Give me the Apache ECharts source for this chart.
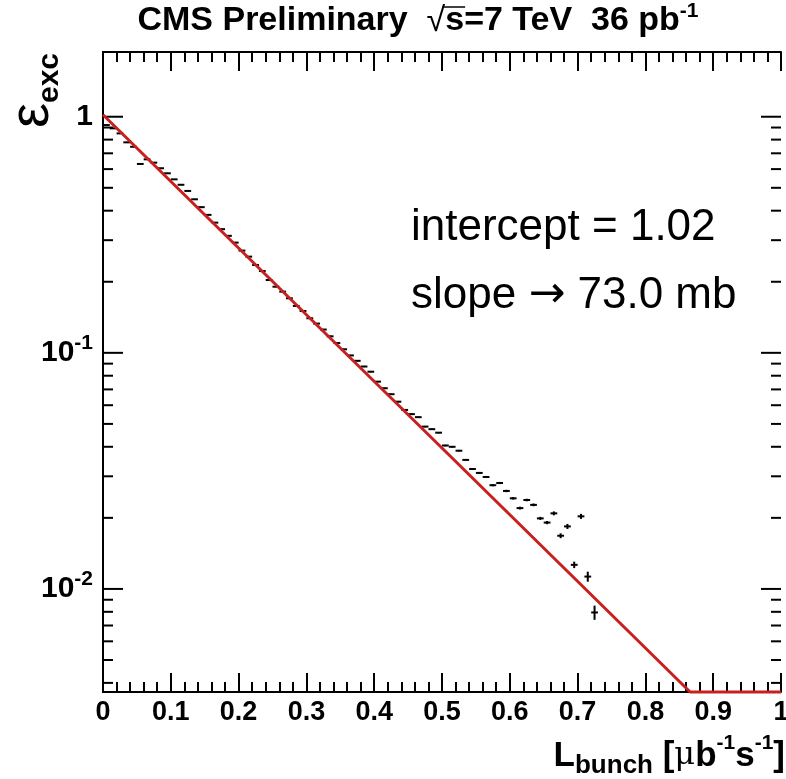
<!DOCTYPE html>
<html><head><meta charset="utf-8">
<script src="https://cdn.jsdelivr.net/npm/echarts@6/dist/echarts.min.js"></script>
<style>html,body{margin:0;padding:0;background:#fff}#c{width:786px;height:779px}</style>
</head><body><div id="c"></div>
<script>
// ---- data ----
const binCenters = [0.005,0.015,0.025,0.035,0.045,0.055,0.065,0.075,0.085,0.095,
  0.105,0.115,0.125,0.135,0.145,0.155,0.165,0.175,0.185,0.195,
  0.205,0.215,0.225,0.235,0.245,0.255,0.265,0.275,0.285,0.295,
  0.305,0.315,0.325,0.335,0.345,0.355,0.365,0.375,0.385,0.395,
  0.405,0.415,0.425,0.435,0.445,0.455,0.465,0.475,0.485,0.495,
  0.505,0.515,0.525,0.535,0.545,0.555,0.565,0.575,0.585,0.595,
  0.605,0.615,0.625,0.635,0.645,0.655,0.665,0.675,0.685,0.695,
  0.705,0.715,0.725];
const effValues = [0.922,0.893,0.850,0.779,0.746,0.631,0.660,0.639,0.605,0.576,
  0.543,0.515,0.485,0.447,0.414,0.384,0.356,0.334,0.313,0.293,
  0.271,0.2555,0.2355,0.222,0.2035,0.1906,0.1816,0.1702,0.158,0.1504,
  0.1401,0.133,0.1255,0.1175,0.110,0.1035,0.0975,0.0925,0.0875,0.0832,
  0.0755,0.0708,0.0668,0.0621,0.0573,0.0550,0.0534,0.0487,0.0475,0.0459,
  0.0405,0.0400,0.0385,0.0352,0.0322,0.0310,0.0298,0.0275,0.0281,0.0260,
  0.0242,0.0220,0.0238,0.0227,0.0199,0.0191,0.0209,0.0168,0.0184,0.01265,
  0.0203,0.01128,0.00795];
const effErrors = [0.003,0.003,0.003,0.003,0.003,0.003,0.003,0.002,0.002,0.002,
  0.002,0.002,0.002,0.002,0.002,0.0015,0.0015,0.0015,0.0015,0.0012,
  0.0012,0.001,0.001,0.001,0.001,0.0009,0.0009,0.0008,0.0008,0.0008,
  0.0007,0.0007,0.0007,0.0006,0.0006,0.0006,0.0005,0.0005,0.0005,0.0005,
  0.0004,0.0004,0.0004,0.0004,0.0004,0.0004,0.0004,0.0003,0.0003,0.0003,
  0.0003,0.0003,0.0003,0.0003,0.0003,0.0003,0.0003,0.0003,0.0003,0.0003,
  0.0003,0.0003,0.0003,0.0003,0.0003,0.0003,0.0004,0.0004,0.00045,0.0004,
  0.0005,0.00055,0.00055];
const fitL = [0, 0.866, 1];
const fitEff = [1.02, 0.00366, 0.00366];
const yMajorTicks = [0.01, 0.1, 1];
const yMinorTicks = [0.004,0.005,0.006,0.007,0.008,0.009,
  0.02,0.03,0.04,0.05,0.06,0.07,0.08,0.09,
  0.2,0.3,0.4,0.5,0.6,0.7,0.8,0.9];
const xMin = 0, xMax = 1, xStep = 0.1;
const yMin = 0.00366, yMax = 1.88;
const binHalfWidth = 0.005;

// ---- chart ----
const FONT = '"Liberation Sans", Arial, Helvetica, sans-serif';
const chart = echarts.init(document.getElementById('c'), null, {renderer: 'canvas'});

const pointData = binCenters.map((x, i) => [x, effValues[i], effErrors[i]]);
const fitData = fitL.map((x, i) => [x, fitEff[i]]);
const tickData = yMajorTicks.map(v => [0, v, 1]).concat(yMinorTicks.map(v => [0, v, 0]));

// measure title pieces so the title can be centred and the root bar placed
const mctx = document.createElement('canvas').getContext('2d');
function tw(txt, font) { mctx.font = font; return mctx.measureText(txt).width; }
const TS = 34, SS = 21;
const fB = 'bold ' + TS + 'px ' + FONT;
const fN = TS + 'px ' + FONT;
const fSup = 'bold ' + SS + 'px ' + FONT;
const p1 = 'CMS Preliminary  ', p2 = '\u221a', p3 = 's', p4 = '=7 TeV  36 pb', p5 = '-1';
const w1 = tw(p1, fB), w2 = tw(p2, fN), w3 = tw(p3, fB), w4 = tw(p4, fB), w5 = tw(p5, fSup);
const titleX0 = 418 - (w1 + w2 + w3 + w4 + w5) / 2;
const titleY = 21;
function tText(x, y, text, size, extra) {
  return Object.assign({type: 'text', x: x, y: y, silent: true,
    style: Object.assign({text: text, fontFamily: FONT, fontWeight: 'bold', fontSize: size, fill: '#000',
      align: 'left', verticalAlign: 'middle'}, extra || {})});
}

// y-axis title: ROOT draws it right-aligned to the top end of the axis
const fExc = 'bold 30px ' + FONT, fEps = '56px ' + FONT;
const wExc = tw('exc', fExc), wEps = tw('\u03b5', fEps);
const yTitleTop = 53;

function xAxisCommon(pos) {
  return {
    type: 'value', min: xMin, max: xMax, interval: xStep, position: pos,
    axisLine: {show: true, onZero: false, lineStyle: {color: '#000', width: 2}},
    axisTick: {show: true, inside: true, length: 19, lineStyle: {color: '#000', width: 2}},
    minorTick: {show: true, splitNumber: 5, length: 10, lineStyle: {color: '#000', width: 2}},
    splitLine: {show: false},
    axisLabel: pos === 'bottom' ? {
      show: true, margin: 7, color: '#000', fontFamily: FONT, fontWeight: 'bold', fontSize: 27,
      formatter: v => (Math.round(v * 10) / 10).toString()
    } : {show: false}
  };
}

chart.setOption({
  backgroundColor: '#fff',
  animation: false,
  grid: {left: 103, right: 5, top: 52, bottom: 87, containLabel: false, outerBoundsMode: 'none'},
  xAxis: [xAxisCommon('bottom'), xAxisCommon('top')],
  yAxis: [
    {
      type: 'log', logBase: 10, min: yMin, max: yMax, position: 'left',
      axisLine: {show: true, lineStyle: {color: '#000', width: 2}},
      axisTick: {show: false}, splitLine: {show: false}, minorTick: {show: false},
      axisLabel: {
        show: true, margin: 10, color: '#000',
        formatter: function (v) {
          const l = Math.log10(v), e = Math.round(l);
          if (Math.abs(l - e) > 1e-6) return '';
          if (e === 0) return '{b|1}';
          return '{b|10}{s|' + e + '}';
        },
        rich: {
          b: {fontFamily: FONT, fontWeight: 'bold', fontSize: 30, lineHeight: 40, color: '#000'},
          s: {fontFamily: FONT, fontWeight: 'bold', fontSize: 21, verticalAlign: 'top', color: '#000'}
        }
      }
    },
    {
      type: 'log', logBase: 10, min: yMin, max: yMax, position: 'right',
      axisLine: {show: true, lineStyle: {color: '#000', width: 2}},
      axisTick: {show: false}, splitLine: {show: false}, axisLabel: {show: false}
    }
  ],
  series: [
    {
      type: 'custom', name: 'yticks', xAxisIndex: 0, yAxisIndex: 0, silent: true, clip: false,
      encode: {x: 0, y: 1},
      data: tickData,
      renderItem: function (params, api) {
        const v = api.value(1), major = api.value(2);
        const pl = api.coord([xMin, v]), pr = api.coord([xMax, v]);
        const len = major ? 20 : 10;
        const st = {stroke: '#000', lineWidth: 2};
        return {type: 'group', children: [
          {type: 'line', shape: {x1: pl[0], y1: pl[1], x2: pl[0] + len, y2: pl[1]}, style: st},
          {type: 'line', shape: {x1: pr[0] - len, y1: pr[1], x2: pr[0], y2: pr[1]}, style: st}
        ]};
      }
    },
    {
      type: 'custom', name: 'data', xAxisIndex: 0, yAxisIndex: 0, silent: true,
      encode: {x: 0, y: 1},
      data: pointData,
      renderItem: function (params, api) {
        const x = api.value(0), y = api.value(1), e = api.value(2);
        const a = api.coord([x - binHalfWidth, y]), b = api.coord([x + binHalfWidth, y]);
        const t = api.coord([x, y + e]), d = api.coord([x, Math.max(y - e, yMin)]);
        const st = {stroke: '#000', lineWidth: 2};
        return {type: 'group', children: [
          {type: 'line', shape: {x1: a[0], y1: a[1], x2: b[0], y2: b[1]}, style: st},
          {type: 'line', shape: {x1: t[0], y1: t[1], x2: d[0], y2: d[1]}, style: st}
        ]};
      }
    },
    {
      type: 'line', name: 'fit', xAxisIndex: 0, yAxisIndex: 0, data: fitData,
      symbol: 'none', clip: false, z: 5,
      lineStyle: {color: '#c8201e', width: 3}
    }
  ],
  graphic: [
    tText(titleX0, titleY, p1, TS),
    tText(titleX0 + w1, titleY + 1, p2, TS, {fontWeight: 'normal'}),
    {type: 'line', silent: true,
      shape: {x1: titleX0 + w1 + w2 * 0.85, y1: titleY - 14, x2: titleX0 + w1 + w2 + w3 + 1, y2: titleY - 14},
      style: {stroke: '#000', lineWidth: 1.5}},
    tText(titleX0 + w1 + w2, titleY, p3, TS),
    tText(titleX0 + w1 + w2 + w3, titleY, p4, TS),
    tText(titleX0 + w1 + w2 + w3 + w4, titleY - 10, p5, SS),
    {
      type: 'text', x: 411, y: 228, silent: true,
      style: {text: 'intercept = 1.02', fontFamily: FONT, fontSize: 44, fill: '#000', verticalAlign: 'middle'}
    },
    {
      type: 'text', x: 411, y: 296, silent: true,
      style: {
        text: '{a|slope }{r|\u2192}{a| 73.0 mb}', verticalAlign: 'middle',
        rich: {
          a: {fontFamily: FONT, fontSize: 44, fill: '#000', lineHeight: 50},
          r: {fontFamily: '"DejaVu Sans", sans-serif', fontSize: 44, fill: '#000', lineHeight: 50}
        }
      }
    },
    {
      type: 'text', x: 785, y: 756, silent: true,
      style: {
        text: '{b|L}{u|bunch}{b| [}{m|\u03bc}{b|b}{s|-1}{b|s}{s|-1}{b|]}',
        align: 'right', verticalAlign: 'middle',
        rich: {
          b: {fontFamily: FONT, fontWeight: 'bold', fontSize: 35, lineHeight: 46, fill: '#000'},
          m: {fontFamily: '"DejaVu Serif", serif', fontWeight: 'normal', fontSize: 32, lineHeight: 46, fill: '#000'},
          u: {fontFamily: FONT, fontWeight: 'bold', fontSize: 26, verticalAlign: 'bottom', fill: '#000'},
          s: {fontFamily: FONT, fontWeight: 'bold', fontSize: 21, verticalAlign: 'top', fill: '#000'}
        }
      }
    },
    {
      type: 'text', x: 33, y: yTitleTop + wExc + wEps / 2, rotation: Math.PI / 2, silent: true,
      style: {text: '\u03b5', fontFamily: FONT, fontSize: 56, fill: '#000', align: 'center', verticalAlign: 'middle'}
    },
    {
      type: 'text', x: 50, y: yTitleTop + wExc / 2, rotation: Math.PI / 2, silent: true,
      style: {text: 'exc', fontFamily: FONT, fontWeight: 'bold', fontSize: 30, fill: '#000', align: 'center', verticalAlign: 'middle'}
    }
  ]
});
</script></body></html>
